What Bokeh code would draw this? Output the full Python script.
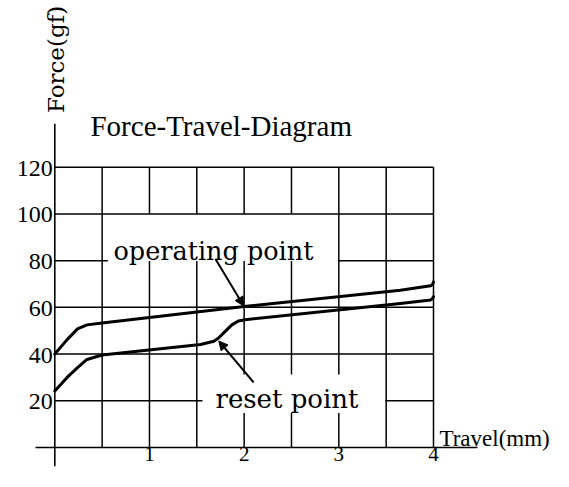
import math
from bokeh.plotting import figure
from bokeh.models import Range1d, ColumnDataSource, Arrow, NormalHead
from bokeh.core.properties import value
from bokeh.embed import file_html
from bokeh.resources import INLINE

# ---- data ----
x_ticks = [1, 2, 3, 4]
x_tick_labels = ["1", "2", "3", "4"]
y_ticks = [20, 40, 60, 80, 100, 120]
y_tick_labels = ["20", "40", "60", "80", "100", "120"]
grid_x = [0.5, 1.0, 1.5, 2.0, 2.5, 3.0, 3.5, 4.0]
grid_y = [20, 40, 60, 80, 100, 120]

operating_x = [0.0, 0.13, 0.24, 0.34, 0.5, 2.0, 3.65, 3.97, 3.99, 4.0]
operating_y = [40.0, 46.2, 50.8, 52.5, 53.3, 60.4, 67.3, 69.3, 69.8, 70.9]

reset_x = [0.0, 0.13, 0.24, 0.34, 0.5, 1.54, 1.68, 1.73, 1.80, 1.87, 1.94, 2.01, 3.65, 3.97, 3.99, 4.0]
reset_y = [24.2, 30.0, 34.2, 37.7, 39.6, 44.1, 45.5, 46.9, 49.7, 52.5, 54.2, 54.7, 61.7, 63.2, 63.8, 64.6]

# label boxes that interrupt the grid
gap_left = [0.56, 1.56]
gap_right = [2.99, 3.49]
gap_bottom = [79.9, 14.8]
gap_top = [100.0, 31.3]

# annotation arrows (tail -> head)
arrow_tail_x = [1.697, 2.10]
arrow_tail_y = [80.7, 27.9]
arrow_head_x = [1.996, 1.732]
arrow_head_y = [60.6, 45.6]

title_text = "Force-Travel-Diagram"
y_title = "Force(gf)"
x_title = "Travel(mm)"
op_label = "operating point"
reset_label = "reset point"


def cut(lo, hi, holes):
    """split [lo, hi] removing the (a, b) intervals in holes"""
    pieces = [(lo, hi)]
    for a, b in holes:
        nxt = []
        for s, e in pieces:
            if b <= s or a >= e:
                nxt.append((s, e))
            else:
                if a > s:
                    nxt.append((s, a))
                if b < e:
                    nxt.append((b, e))
        pieces = nxt
    return pieces


hx0, hx1, hy = [], [], []
for gy in grid_y:
    holes = [(l, r) for l, r, b, t in zip(gap_left, gap_right, gap_bottom, gap_top) if b < gy < t]
    for s, e in cut(0, 4, holes):
        hx0.append(s); hx1.append(e); hy.append(gy)

vy0, vy1, vx = [], [], []
for gx in grid_x:
    holes = [(b, t) for l, r, b, t in zip(gap_left, gap_right, gap_bottom, gap_top) if l < gx < r]
    for s, e in cut(0, 120, holes):
        vy0.append(s); vy1.append(e); vx.append(gx)

# ---- figure ----
p = figure(width=553, height=471, output_backend="svg", toolbar_location=None,
           x_range=Range1d(-0.5735, 5.2675), y_range=Range1d(-10.28, 191.4),
           x_axis_location=None, y_axis_location=None, min_border=0)
p.grid.visible = False
p.outline_line_color = None
p.background_fill_color = "white"
p.border_fill_color = "white"

ink = "black"

# grid
p.segment(x0=hx0, y0=hy, x1=hx1, y1=hy, line_color=ink, line_width=1.5)
p.segment(x0=vx, y0=vy0, x1=vx, y1=vy1, line_color=ink, line_width=1.5)

# axes lines
p.segment(x0=[-0.204], y0=[0], x1=[4.465], y1=[0], line_color=ink, line_width=1.6)
p.segment(x0=[0], y0=[-8.0], x1=[0], y1=[138.6], line_color=ink, line_width=1.6)

# curves
p.line(operating_x, operating_y, line_color=ink, line_width=3, line_join="round", line_cap="round")
p.line(reset_x, reset_y, line_color=ink, line_width=3, line_join="round", line_cap="round")

# arrows
asrc = ColumnDataSource(dict(x0=arrow_tail_x, y0=arrow_tail_y, x1=arrow_head_x, y1=arrow_head_y))
p.add_layout(Arrow(x_start="x0", y_start="y0", x_end="x1", y_end="y1", source=asrc,
                   line_color=ink, line_width=2,
                   end=NormalHead(size=9, fill_color=ink, line_color=ink, line_width=1)))

serif = value("DejaVu Serif")
times = value("Liberation Serif")

# tick labels
p.text(x=[0] * len(y_ticks), y=y_ticks, text=y_tick_labels, x_offset=-2, y_offset=1,
       text_align="right", text_baseline="middle", text_font=times,
       text_font_size="24px", text_color=ink)
p.text(x=x_ticks, y=[0] * len(x_ticks), text=x_tick_labels, y_offset=0,
       text_align="center", text_baseline="top", text_font=times,
       text_font_size="21px", text_color=ink)

# titles
p.text(x=[0.377], y=[137.7], text=[title_text], text_align="left", text_baseline="alphabetic",
       text_font=times, text_font_size="29px", text_color=ink)
p.text(x=[0.008], y=[143.2], text=[y_title], angle=math.pi / 2, text_align="left",
       text_baseline="alphabetic", text_font=serif, text_font_size="23px", text_color=ink)
p.text(x=[4.063], y=[3.8], text=[x_title], text_align="left", text_baseline="alphabetic",
       text_font=times, text_font_size="23px", text_color=ink)

# annotation labels
p.text(x=[0.62], y=[84.1], text=[op_label], text_align="left", text_baseline="alphabetic",
       text_font=serif, text_font_size="25.5px", text_color=ink)
p.text(x=[1.697], y=[20.7], text=[reset_label], text_align="left", text_baseline="alphabetic",
       text_font=serif, text_font_size="26px", text_color=ink)

open("out.html", "w").write(file_html(p, INLINE))
